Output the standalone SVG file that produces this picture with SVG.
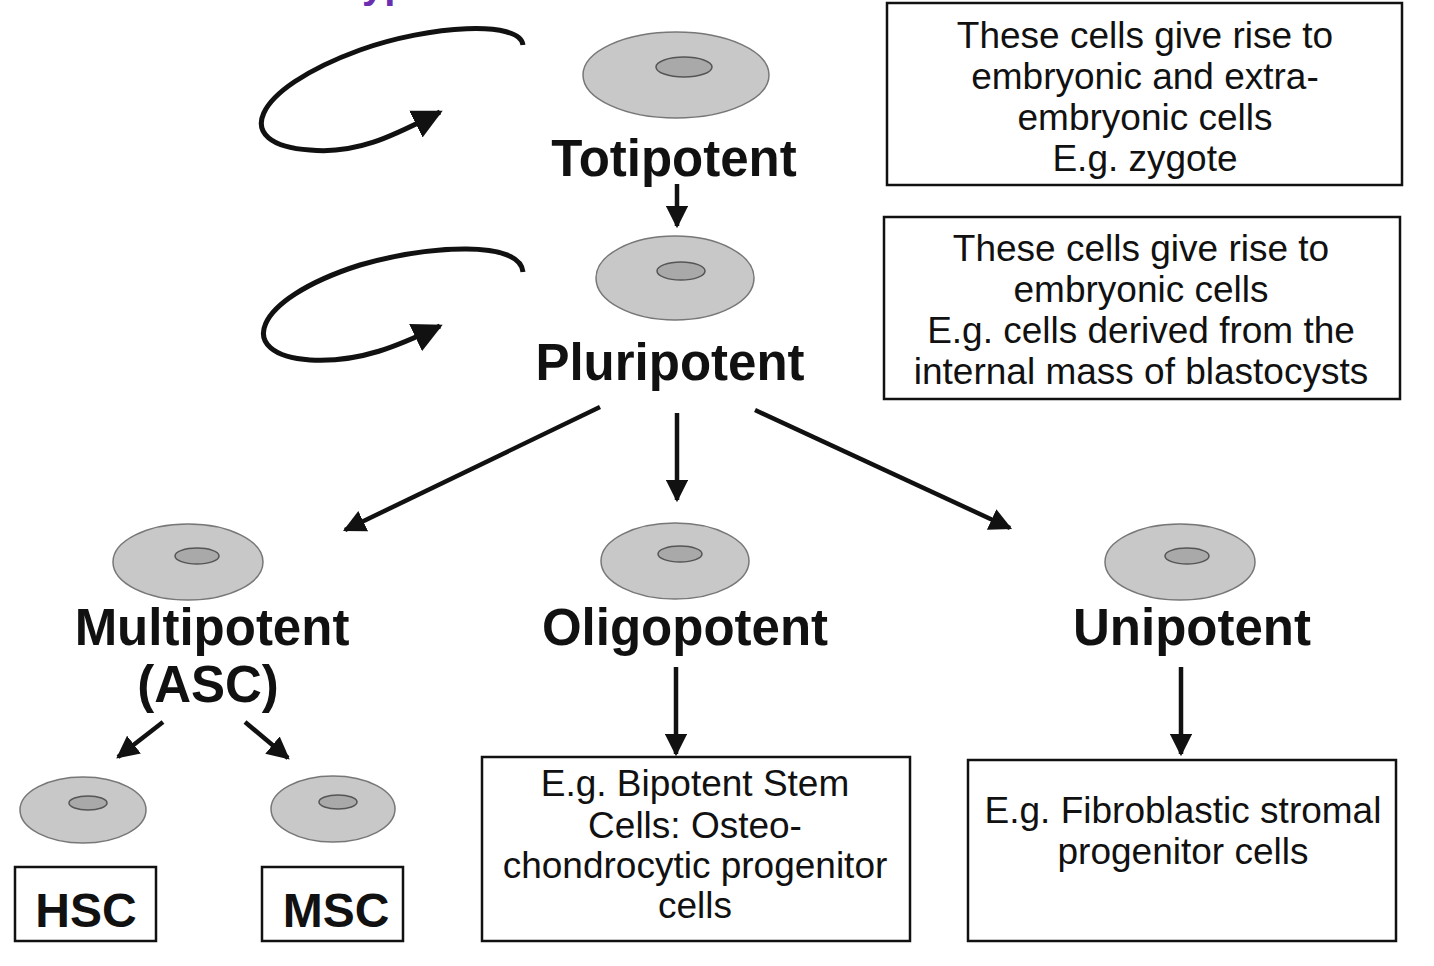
<svg xmlns="http://www.w3.org/2000/svg" width="1434" height="966" viewBox="0 0 1434 966">
<defs>
<marker id="ah" viewBox="0 0 10 10" refX="9" refY="5" markerWidth="5" markerHeight="5" markerUnits="strokeWidth" orient="auto"><path d="M0,0 L10,5 L0,10 z" fill="#111"/></marker>
<marker id="ah2" viewBox="0 0 10 10" refX="9" refY="5" markerWidth="6" markerHeight="6" markerUnits="strokeWidth" orient="auto"><path d="M0,0 L10,5 L0,10 z" fill="#111"/></marker>
</defs>
<style>
.cell{fill:#c8c8c8;stroke:#777;stroke-width:1.5}
.nuc{fill:#a9a9a9;stroke:#555;stroke-width:1.5}
.lbl{font-family:"Liberation Sans",Arial,sans-serif;font-weight:bold;font-size:51px;text-anchor:middle;fill:#111}
.txt{font-family:"Liberation Sans",Arial,sans-serif;font-size:37px;text-anchor:middle;fill:#111}
.box{fill:#fff;stroke:#111;stroke-width:2.5}
.ln{stroke:#111;stroke-width:4.5;fill:none;marker-end:url(#ah)}
.loop{stroke:#111;stroke-width:5;fill:none;marker-end:url(#ah2)}
</style>
<rect width="1434" height="966" fill="#fff"/>
<text x="362" y="-2" font-family="Liberation Sans,Arial,sans-serif" font-weight="bold" font-size="40" fill="#6a2fb0">yp</text>
<g id="totipotent"><ellipse class="cell" cx="676" cy="75" rx="93" ry="43"/><ellipse class="nuc" cx="684" cy="67" rx="28" ry="10"/><text class="lbl" x="674" y="176">Totipotent</text></g>
<g id="pluripotent"><ellipse class="cell" cx="675" cy="278" rx="79" ry="42"/><ellipse class="nuc" cx="681" cy="271" rx="24" ry="9"/><text class="lbl" x="670" y="380">Pluripotent</text></g>
<g id="multipotent"><ellipse class="cell" cx="188" cy="562" rx="75" ry="38"/><ellipse class="nuc" cx="197" cy="556" rx="22" ry="8"/><text class="lbl" x="212" y="645">Multipotent</text><text class="lbl" x="208" y="702">(ASC)</text></g>
<g id="oligopotent"><ellipse class="cell" cx="675" cy="561" rx="74" ry="38"/><ellipse class="nuc" cx="680" cy="554" rx="22" ry="8"/><text class="lbl" x="685" y="645">Oligopotent</text></g>
<g id="unipotent"><ellipse class="cell" cx="1180" cy="562" rx="75" ry="38"/><ellipse class="nuc" cx="1187" cy="556" rx="22" ry="8"/><text class="lbl" x="1192" y="645">Unipotent</text></g>
<g id="hsc"><ellipse class="cell" cx="83" cy="810" rx="63" ry="33"/><ellipse class="nuc" cx="88" cy="803" rx="19" ry="7"/><rect class="box" x="15" y="867" width="141" height="74"/><text class="lbl" x="86" y="927" style="font-size:48px">HSC</text></g>
<g id="msc"><ellipse class="cell" cx="333" cy="809" rx="62" ry="33"/><ellipse class="nuc" cx="338" cy="802" rx="19" ry="7"/><rect class="box" x="262" y="867" width="141" height="74"/><text class="lbl" x="336" y="927" style="font-size:48px">MSC</text></g>
<g id="toti-note"><rect class="box" x="887" y="3" width="515" height="182"/><text class="txt" x="1145" y="48">These cells give rise to</text><text class="txt" x="1145" y="89">embryonic and extra-</text><text class="txt" x="1145" y="130">embryonic cells</text><text class="txt" x="1145" y="171">E.g. zygote</text></g>
<g id="pluri-note"><rect class="box" x="884" y="217" width="516" height="182"/><text class="txt" x="1141" y="261">These cells give rise to</text><text class="txt" x="1141" y="302">embryonic cells</text><text class="txt" x="1141" y="343">E.g. cells derived from the</text><text class="txt" x="1141" y="384">internal mass of blastocysts</text></g>
<g id="oligo-note"><rect class="box" x="482" y="757" width="428" height="184"/><text class="txt" x="695" y="796">E.g. Bipotent Stem</text><text class="txt" x="695" y="838">Cells: Osteo-</text><text class="txt" x="695" y="878">chondrocytic progenitor</text><text class="txt" x="695" y="918">cells</text></g>
<g id="uni-note"><rect class="box" x="968" y="760" width="428" height="181"/><text class="txt" x="1183" y="823">E.g. Fibroblastic stromal</text><text class="txt" x="1183" y="864">progenitor cells</text></g>
<g id="connectors">
<path class="loop" d="M523,45 C520,20 430,25 360,50 C250,90 230,145 310,150 C360,155 400,132 440,112"/>
<path class="loop" d="M523,272 C520,240 430,245 360,265 C250,300 235,355 310,360 C360,363 400,345 440,326"/>
<line class="ln" x1="677" y1="184" x2="677" y2="226"/>
<line class="ln" x1="677" y1="413" x2="677" y2="500"/>
<line class="ln" x1="600" y1="407" x2="345" y2="530"/>
<line class="ln" x1="755" y1="410" x2="1010" y2="528"/>
<line class="ln" x1="676" y1="667" x2="676" y2="754"/>
<line class="ln" x1="1181" y1="667" x2="1181" y2="754"/>
<line class="ln" x1="163" y1="722" x2="118" y2="757"/>
<line class="ln" x1="245" y1="722" x2="288" y2="758"/>
</g>
</svg>
